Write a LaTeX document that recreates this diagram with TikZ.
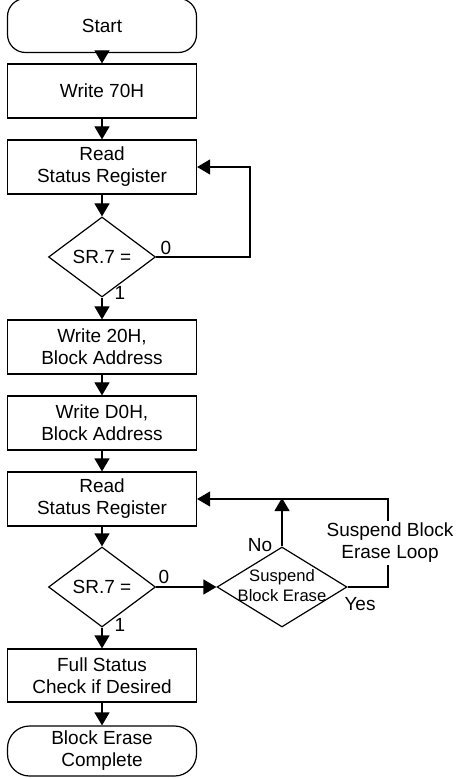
\documentclass[tikz,border=0pt]{standalone}
\usepackage{fontspec}
\setmainfont{Liberation Sans}
\usepackage{tikz}
\usetikzlibrary{arrows.meta,shapes.geometric}

\begin{document}
\begin{tikzpicture}[> = {Triangle[width=7.5pt,length=6.5pt]}, % arrow head style
	x=0.5pt,y=-0.5pt, % pixel grid, y down
	semithick % line style
	,every node/.style={font=\fontsize{9.5}{11}\selectfont},
	box/.style={draw,rectangle,minimum width=94.5pt,minimum height=27pt,inner sep=0pt,align=center},
	term/.style={box,rounded corners=9pt},
	dec/.style={draw,diamond,minimum width=53.5pt,minimum height=40pt,inner sep=0pt},
	lbl/.style={inner sep=0pt}]
	\useasboundingbox (0,0) rectangle (457,779);

	\node[term] (start) at (102,25.5) 	{Start};
	\node[box] (w70) at (102,91) 		{Write 70H};
	\node[box] (rsr1) at (102,167) 	{Read\\Status Register};
	\node[dec] (sr1) at (102,257) 		{SR.7 =};
	\node[box] (w20) at (102,347) 		{Write 20H,\\Block Address};
	\node[box] (wd0) at (102,423) 		{Write D0H,\\Block Address};
	\node[box] (rsr2) at (102,499) 	{Read\\Status Register};
	\node[dec] (sr2) at (102,587) 		{SR.7 =};
	\node[dec,minimum width=65pt] (susp) at (282,587) {};
	\node[font=\fontsize{8.3}{10}\selectfont,align=center,inner sep=0pt] (susptxt) at (282,586) {Suspend\\Block Erase};
	\node[box,minimum height=26.5pt] (full) at (102,675.5) {Full Status\\Check if Desired};
	\node[term,minimum height=25pt,rounded corners=11pt] (done) at (102,751) {Block Erase\\Complete};

	\coordinate (c1) at (250,257);
	\coordinate (c2) at (282,498);
	\coordinate (c3) at (388,587);

	\draw[->] (start)--(w70);
	\draw[->] (w70)--(rsr1);
	\draw[->] (rsr1)--(sr1);
	\draw[->] (sr1)--(w20);
	\draw[->] (w20)--(wd0);
	\draw[->] (wd0)--(rsr2);
	\draw[->] (rsr2)--(sr2);
	\draw[->] (sr2)--(full);
	\draw[->] (full)--(done);
	\draw[->] (sr1.east)--(c1)|-(rsr1.east);
	\draw[->] (sr2.east)--(susp.west);
	\draw[->] (susp.north)--(c2);
	\draw[->] (susp.east)--(c3)|-(rsr2.east);

	\node[fill=white,align=center,inner sep=1pt] (loop) at (390,543) {Suspend Block\\Erase Loop};
	\node[lbl] (l0a) at (166,248) {0};
	\node[lbl] (l1a) at (120,293) {1};
	\node[lbl] (l0b) at (164,577) {0};
	\node[lbl] (l1b) at (120,625) {1};
	\node[lbl] (lno) at (260,545) {No};
	\node[lbl] (lyes) at (360,604) {Yes};

\end{tikzpicture}
\end{document}
